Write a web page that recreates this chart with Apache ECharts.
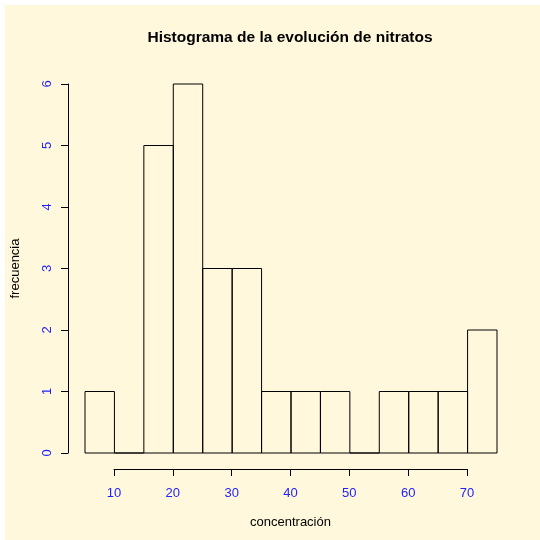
<!DOCTYPE html>
<html>
<head>
<meta charset="utf-8">
<script src="https://cdn.jsdelivr.net/npm/echarts@6/dist/echarts.min.js"></script>
<style>
  html, body { margin: 0; padding: 0; background: #fff; }
  #chart { width: 540px; height: 540px; }
</style>
</head>
<body>
<div id="chart"></div>
<script>
// datos del histograma (clases de 5 en 5)
var binStarts = [5, 10, 15, 20, 25, 30, 35, 40, 45, 50, 55, 60, 65, 70];
var binEnds = [10, 15, 20, 25, 30, 35, 40, 45, 50, 55, 60, 65, 70, 75];
var counts = [1, 0, 5, 6, 3, 3, 1, 1, 1, 0, 1, 1, 1, 2];
var xTicks = [10, 20, 30, 40, 50, 60, 70];
var yTicks = [0, 1, 2, 3, 4, 5, 6];

var fontFam = '"Liberation Sans", Arial, sans-serif';
var lineColor = '#000';
var labelBlue = '#2222ff';

var histData = binStarts.map(function (s, i) {
  return [s, binEnds[i], counts[i]];
});

var chart = echarts.init(document.getElementById('chart'));

chart.setOption({
  backgroundColor: '#fff',
  animation: false,
  graphic: [{
    type: 'rect',
    z: -100,
    silent: true,
    shape: { x: 5, y: 5, width: 535, height: 535 },
    style: { fill: '#fff8dc' }
  }, {
    // titulo
    type: 'text',
    silent: true,
    x: 290,
    y: 38,
    style: {
      text: 'Histograma de la evolución de nitratos',
      fill: '#000',
      font: 'bold 15.5px ' + fontFam,
      textAlign: 'center',
      textVerticalAlign: 'middle'
    }
  }],
  grid: [
    // zona de barras
    { left: 85, right: 43, top: 84, bottom: 87 },
    // eje x separado
    { left: 114, right: 73, top: 84, bottom: 71 },
    // eje y separado
    { left: 68, right: 43, top: 84, bottom: 87 }
  ],
  xAxis: [
    { gridIndex: 0, type: 'value', min: 5, max: 75, show: false },
    {
      gridIndex: 1, type: 'value', min: 10, max: 70, interval: 10,
      name: 'concentración', nameLocation: 'middle', nameGap: 47,
      nameTextStyle: { fontFamily: fontFam, fontSize: 13, color: '#000' },
      axisLine: { show: true, lineStyle: { color: lineColor, width: 1 } },
      axisTick: { show: true, length: 7, lineStyle: { color: lineColor } },
      axisLabel: { fontFamily: fontFam, fontSize: 13, color: labelBlue, margin: 18 },
      splitLine: { show: false }
    },
    { gridIndex: 2, type: 'value', show: false }
  ],
  yAxis: [
    { gridIndex: 0, type: 'value', min: 0, max: 6, show: false },
    { gridIndex: 1, type: 'value', show: false },
    {
      gridIndex: 2, type: 'value', min: 0, max: 6, interval: 1,
      name: 'frecuencia', nameLocation: 'middle', nameGap: 46,
      nameTextStyle: { fontFamily: fontFam, fontSize: 13, color: '#000' },
      axisLine: { show: true, lineStyle: { color: lineColor, width: 1 } },
      axisTick: { show: true, length: 7, lineStyle: { color: lineColor } },
      axisLabel: { fontFamily: fontFam, fontSize: 13, color: labelBlue, rotate: 90, margin: 14 },
      splitLine: { show: false }
    }
  ],
  series: [{
    type: 'custom',
    xAxisIndex: 0,
    yAxisIndex: 0,
    data: histData,
    renderItem: function (params, api) {
      var p0 = api.coord([api.value(0), api.value(2)]);
      var p1 = api.coord([api.value(1), 0]);
      return {
        type: 'rect',
        shape: { x: p0[0], y: p0[1], width: p1[0] - p0[0], height: p1[1] - p0[1] },
        style: { fill: 'rgba(0,0,0,0)', stroke: lineColor, lineWidth: 1 }
      };
    }
  }]
});
</script>
</body>
</html>
